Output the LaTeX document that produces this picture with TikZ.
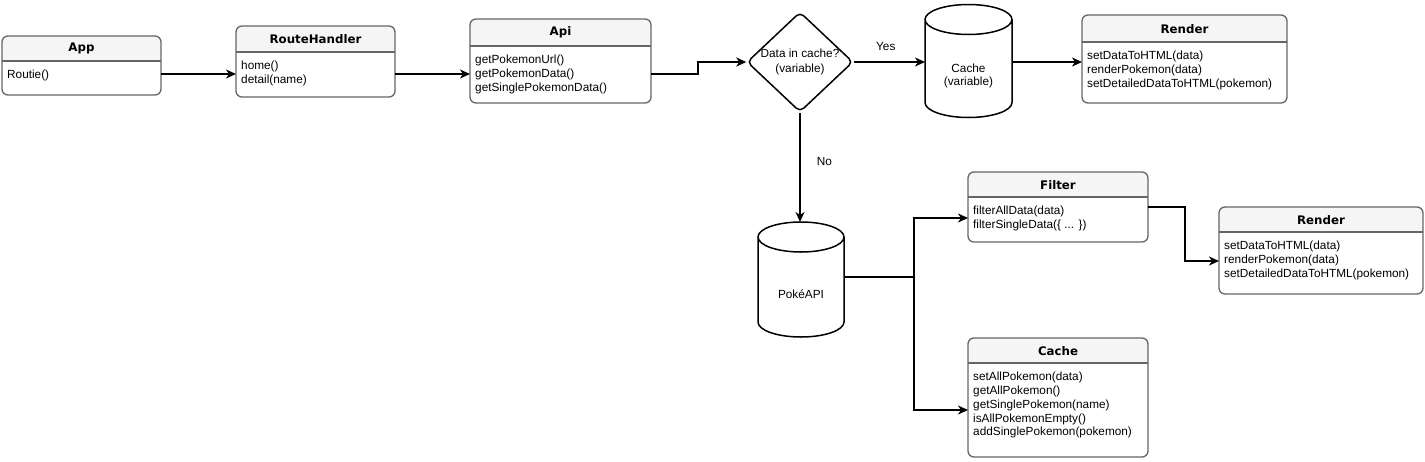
\documentclass[tikz,border=0pt]{standalone}
\usepackage{fontspec}
\setmainfont{Liberation Sans}
\newfontfamily\titlefont{DejaVu Sans}
\usetikzlibrary{arrows.meta, positioning, shapes.geometric}
\definecolor{hdrgray}{HTML}{F5F5F5}
\definecolor{boxgray}{HTML}{666666}
\tikzstyle{clsframe}=[rectangle, inner sep=0pt, outer sep=0pt]
\tikzstyle{clsline}=[draw=boxgray, line width=1.3pt]
\tikzstyle{clstitle}=[font=\titlefont\bfseries\fontsize{11.8}{14}\selectfont, inner sep=0pt]
\tikzstyle{clsops}=[align=left, font=\fontsize{11.8}{13.8}\selectfont, inner sep=0pt]
\tikzstyle{dbline}=[draw, line width=1.5pt]
\tikzstyle{dbtext}=[align=center, font=\fontsize{11.8}{13.8}\selectfont, inner sep=0pt]
\tikzstyle{flow}=[->, line width=1.6pt]
\tikzstyle{lbl}=[font=\fontsize{11.8}{13.8}\selectfont, inner sep=0pt]
% #1 name, #2 x, #3 y, #4 width, #5 height, #6 header height, #7 title, #8 operations
\newcommand{\classbox}[8]{%
\node[clsframe, minimum width=#4pt, minimum height=#5pt, anchor=north west] (#1) at (#2,#3) {};
\begin{scope}
\clip[rounded corners=6pt] (#1.north west) rectangle (#1.south east);
\fill[hdrgray] (#1.north west) rectangle ([yshift=-#6pt]#1.north east);
\end{scope}
\draw[clsline] ([yshift=-#6pt]#1.north west) -- ([yshift=-#6pt]#1.north east);
\draw[clsline, rounded corners=6pt] (#1.north west) rectangle (#1.south east);
\node[clstitle, anchor=north, minimum height=#6pt] (#1_title) at (#1.north) {#7};
\node[clsops, anchor=north west] (#1_ops) at ([xshift=5pt, yshift=-#6pt-9pt]#1.north west) {#8};
}
% #1 name, #2 centre x, #3 centre y, #4 width, #5 height, #6 text
\newcommand{\dbbox}[6]{%
\node[clsframe, minimum width=#4pt, minimum height=#5pt] (#1) at (#2,#3) {};
\draw[dbline] ([yshift=-15pt]#1.north west) -- ([yshift=15pt]#1.south west)
  arc[start angle=180, end angle=360, x radius=#4pt/2, y radius=15pt]
  -- ([yshift=-15pt]#1.north east)
  arc[start angle=0, end angle=360, x radius=#4pt/2, y radius=15pt];
\node[dbtext] (#1_txt) at ([yshift=-15pt]#1.center) {#6};
}

\begin{document}
\begin{tikzpicture}[>={Stealth[length=10pt, width=9pt, inset=3pt]}, x=1pt, y=-1pt]
\useasboundingbox (0,0) rectangle (1425,461);
\classbox{app}{2}{36}{159}{59}{25}{App}{Routie()}
\classbox{route_h}{236}{26}{159}{71}{26}{RouteHandler}{home()\\detail(name)}
\classbox{api}{470}{19}{181}{84}{27}{Api}{getPokemonUrl()\\getPokemonData()\\getSinglePokemonData()}
\classbox{render_a}{1082}{15}{205}{88}{27}{Render}{setDataToHTML(data)\\renderPokemon(data)\\setDetailedDataToHTML(pokemon)}
\classbox{filter}{968}{172}{180}{70}{25}{Filter}{filterAllData(data)\\filterSingleData(\{ ... \})}
\classbox{render_b}{1219}{207}{204}{87}{25}{Render}{setDataToHTML(data)\\renderPokemon(data)\\setDetailedDataToHTML(pokemon)}
\classbox{cache_b}{968}{338}{180}{119}{25}{Cache}{setAllPokemon(data)\\getAllPokemon()\\getSinglePokemon(name)\\isAllPokemonEmpty()\\addSinglePokemon(pokemon)}
\node[diamond, draw, line width=1.5pt, rounded corners=5pt, aspect=1.06, minimum width=106pt, minimum height=100pt, inner sep=0pt, align=center, font=\fontsize{11.8}{14.5}\selectfont] (cache_q) at (800,62) {Data in cache?\\(variable)};
\dbbox{cache_v}{968.5}{61}{87}{113}{Cache\\(variable)}
\dbbox{poke_api}{801}{279.5}{86}{115}{PokéAPI}
%\node[right = .5cm of poke_api] {};
\draw[flow] ([yshift=-8.5pt]app.east) -- ([yshift=-12.5pt]route_h.west);
\draw[flow] ([yshift=-12.5pt]route_h.east) -- ([yshift=-13pt]api.west);
\draw[flow] ([yshift=-13pt]api.east) -- ++(47,0) |- (cache_q.west);
\draw[flow] (cache_q.east) -- (cache_q.east -| cache_v.west) node[lbl, pos=0.45, above=11pt] {Yes};
\draw[flow] (cache_q.east -| cache_v.east) -- (cache_q.east -| render_a.west);
\draw[flow] (cache_q.south) -- (cache_q.south |- poke_api.north) node[lbl, pos=0.45, right=16pt] {No};
\draw[flow] ([yshift=2.5pt]poke_api.east) -- ++(70,0) coordinate (fork) |- ([yshift=-11pt]filter.west);
\draw[flow] (fork) |- ([yshift=-12.5pt]cache_b.west);
\draw[flow] (filter.east) -- ++(37,0) |- ([yshift=-10.5pt]render_b.west);
\end{tikzpicture}
\end{document}
